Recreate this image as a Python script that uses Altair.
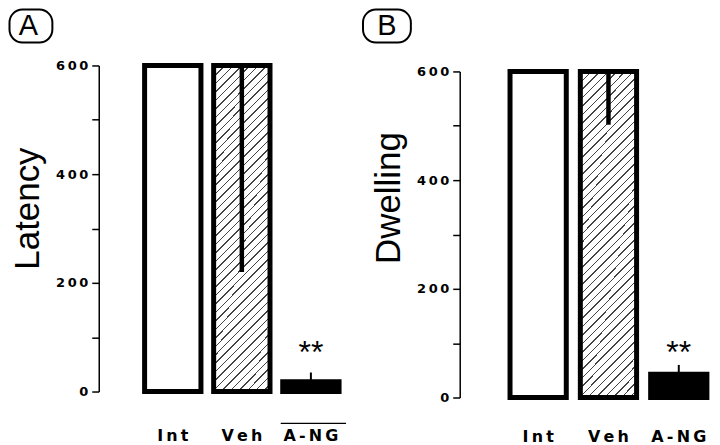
import altair as alt
import pandas as pd

# ---------------- data ----------------
categories = ["Int", "Veh", "A-NG"]
latency_mean = [600, 600, 18]
latency_err_end = [600, 220, 35]
dwelling_mean = [600, 600, 43]
dwelling_err_end = [600, 502, 60]
significance = ["", "", "**"]
y_tick_values = [0, 100, 200, 300, 400, 500, 600]
star_level = {"A": 53, "B": 64}
overlined_A = ["A-NG"]

THIN = "\u2009"
BLACK = "#000000"


def hatch_gradient(w=57.0, h=327.0, spacing=8.5, line=1.5, color="#444444"):
    a = w / h
    k = (1 + a) / (1 + a * a)
    total = w + h
    stops = [alt.GradientStop(offset=0, color="white")]
    s = 3.0
    while s < total:
        t0 = max(0.0, (s - line / 2) / total)
        t1 = min(1.0, (s + line / 2) / total)
        stops += [
            alt.GradientStop(offset=t0, color="white"),
            alt.GradientStop(offset=t0, color=color),
            alt.GradientStop(offset=t1, color=color),
            alt.GradientStop(offset=t1, color="white"),
        ]
        s += spacing
    stops.append(alt.GradientStop(offset=1, color="white"))
    return alt.LinearGradient(gradient="linear", stops=stops, x1=0, y1=0, x2=a * k, y2=k)


def panel(letter, title, means, err_end, width, height, yrange, sc, title_x, title_y,
          xlab_pad, box, letter_pos, overline=None, overline_y=359):
    df = pd.DataFrame({
        "cat": categories,
        "mean": means,
        "err": err_end,
        "sig": significance,
    })
    df["star"] = star_level[letter]

    xscale = alt.Scale(paddingInner=sc[0], paddingOuter=sc[1], align=sc[2])
    xaxis = alt.Axis(
        title=None, domain=False, ticks=False, labelAngle=0,
        labelFont="DejaVu Sans", labelFontSize=16, labelFontWeight="bold", labelColor=BLACK,
        labelBaseline="alphabetic", labelPadding=xlab_pad,
        labelExpr="replace(datum.label, regexp('(.)(?=.)', 'g'), '$1" + THIN + "')",
    )
    xdef = alt.X("cat:N", sort=categories, scale=xscale, axis=xaxis)
    yscale = alt.Scale(domain=[0, 600], nice=False, zero=True, range=yrange)
    yaxis = alt.Axis(
        values=y_tick_values, title=title,
        labelExpr="datum.value % 200 == 0 ? replace(datum.label, regexp('([0-9])(?=[0-9])', 'g'), '$1" + THIN + "') : ''",
        labelFont="DejaVu Sans", labelFontSize=13, labelFontWeight="bold",
        labelColor=BLACK, labelPadding=4,
        tickSize=7, tickWidth=1.5, tickColor=BLACK,
        domainWidth=1.5, domainColor=BLACK, grid=False,
        titleFont="Liberation Sans", titleFontSize=35, titleFontWeight="normal",
        titleColor=BLACK, titleAngle=270, titleBaseline="alphabetic", titleAlign="center",
        titleX=title_x, titleY=title_y,
    )

    base = alt.Chart(df)
    bars_plain = base.transform_filter("datum.cat != 'Veh'").mark_bar(
        stroke=BLACK, strokeWidth=5, strokeJoin="miter"
    ).encode(
        x=xdef,
        y=alt.Y("mean:Q", scale=yscale, axis=yaxis),
        fill=alt.condition("datum.cat == 'A-NG'", alt.value(BLACK), alt.value("white")),
    )
    bars_veh = base.transform_filter("datum.cat == 'Veh'").mark_bar(
        stroke=BLACK, strokeWidth=5, strokeJoin="miter", fill=hatch_gradient()
    ).encode(
        x=xdef,
        y=alt.Y("mean:Q", scale=yscale, axis=yaxis),
    )
    err = base.transform_filter("datum.err != datum.mean").mark_rule(color=BLACK).encode(
        x=xdef,
        y=alt.Y("mean:Q", scale=yscale, axis=yaxis),
        y2="err:Q",
        strokeWidth=alt.condition("datum.cat == 'Veh'", alt.value(4.5), alt.value(2)),
    )
    stars = base.transform_filter("datum.sig != ''").mark_text(
        font="Liberation Sans", fontSize=32, baseline="alphabetic", color=BLACK
    ).encode(
        x=xdef,
        y=alt.Y("star:Q", scale=yscale, axis=yaxis),
        text="sig:N",
    )
    lab_df = pd.DataFrame({"label": [letter]})
    boxm = alt.Chart(lab_df).mark_rect(
        cornerRadius=13, fill="white", fillOpacity=0, stroke=BLACK, strokeWidth=2
    ).encode(
        x=alt.value(box[0]), x2=alt.value(box[1]),
        y=alt.value(box[2]), y2=alt.value(box[3]),
    )
    lettm = alt.Chart(lab_df).mark_text(
        font="Liberation Sans", fontSize=29, baseline="alphabetic", align="center", color=BLACK
    ).encode(
        x=alt.value(letter_pos[0]), y=alt.value(letter_pos[1]), text="label:N"
    )
    layers = [bars_plain, bars_veh, err, stars, boxm, lettm]
    if overline:
        ol = base.transform_filter(
            alt.FieldOneOfPredicate(field="cat", oneOf=overline)
        ).mark_rule(color=BLACK, strokeWidth=1.2, xOffset=-2, x2Offset=7).encode(
            x=alt.X("cat:N", sort=categories, bandPosition=0, scale=xscale, axis=xaxis),
            x2=alt.X2("cat:N", bandPosition=1),
            y=alt.value(overline_y),
        )
        layers.append(ol)
    return alt.layer(*layers).properties(width=width, height=height)


pA = panel("A", "Latency", latency_mean, latency_err_end, 252, 327, [327, 0],
           (0.184, 0.4115, 0.807), -60.5, 143, 49,
           (-89.5, -46.5, -56, -23), (-70.5, -30.5), overline=overlined_A, overline_y=359)
pB = panel("B", "Dwelling", dwelling_mean, dwelling_err_end, 253, 333, [333, 6],
           (0.2, 0.394, 0.908), -60, 132.5, 44,
           (-97, -49, -56, -23), (-73, -30.5))

chart = alt.hconcat(pA, pB, spacing=12).configure_view(stroke=None).properties(
    padding=0, background="white"
)

chart.save("out.html", embed_options={"renderer": "svg", "actions": False})
